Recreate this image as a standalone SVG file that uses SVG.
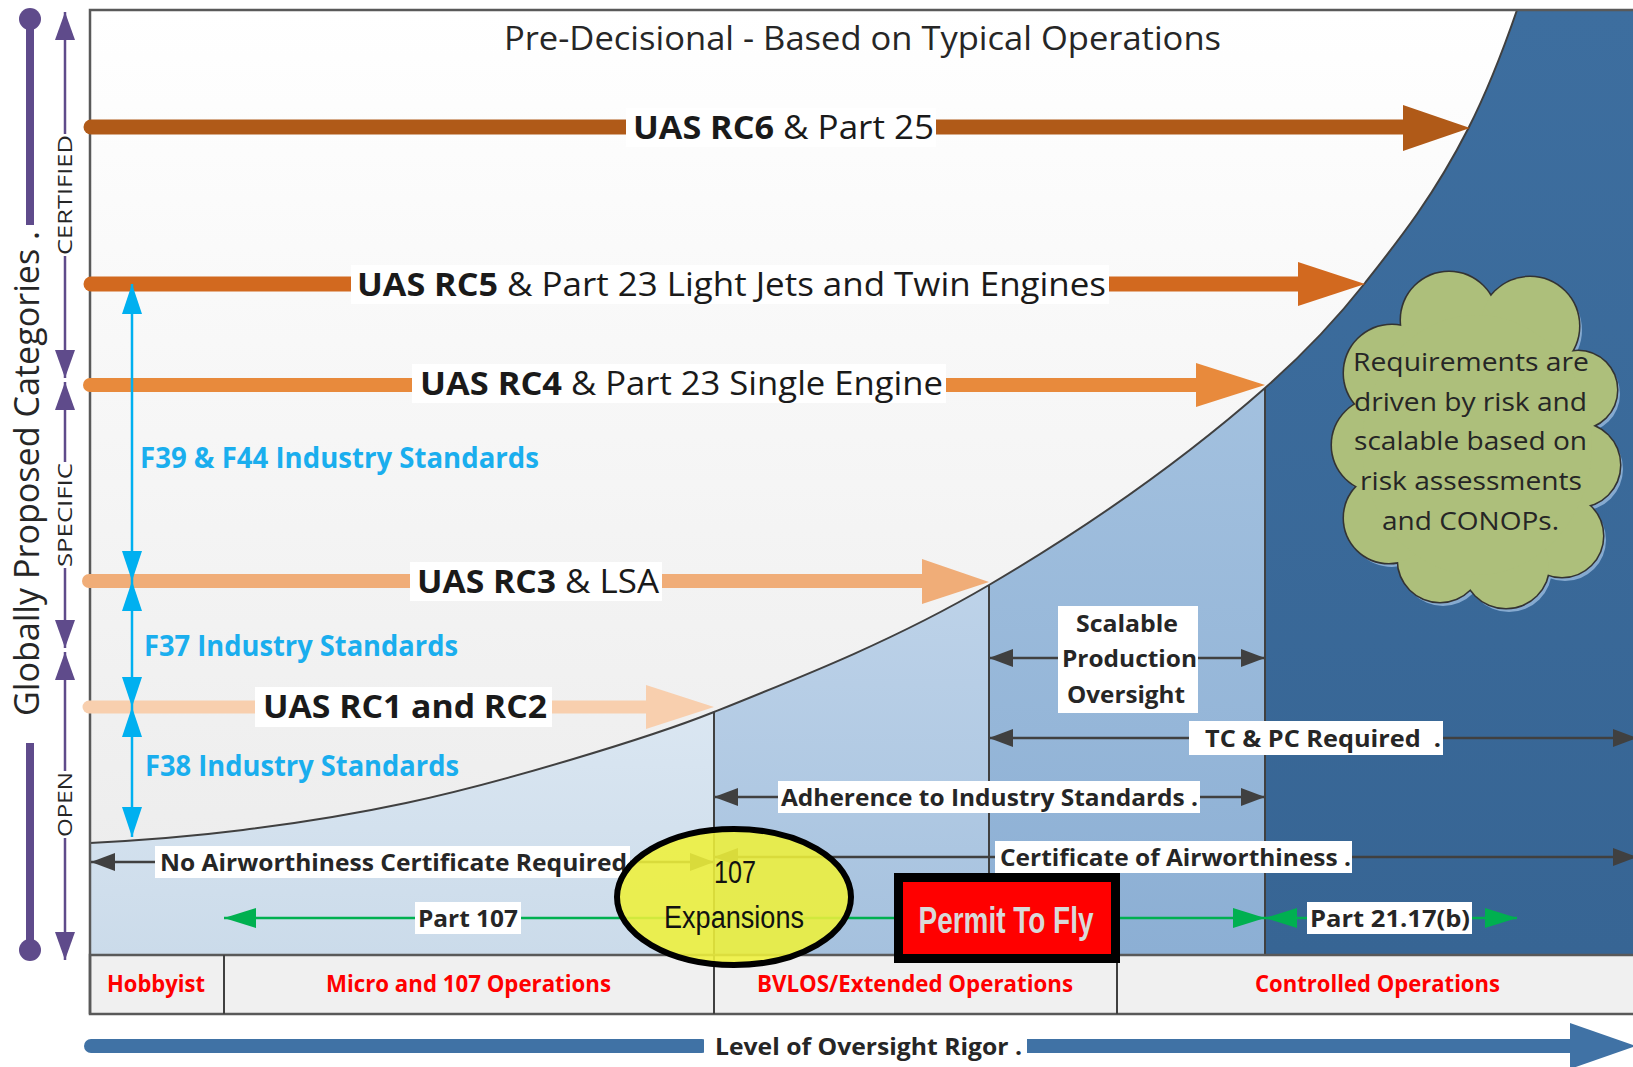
<svg xmlns="http://www.w3.org/2000/svg" width="1633" height="1067" viewBox="0 0 1633 1067">
<style>
.t{font-family:"Open Sans","Liberation Sans",sans-serif}
.b{font-weight:700}
.rc{font-size:32px;fill:#1a1a1a}
.blu{font-size:28px;fill:#1aaeee;font-weight:700}
.lbl{font-size:24px;fill:#262626;font-weight:700}
.cat{font-size:23px;fill:#ff0000;font-weight:700}
.cld{font-size:25px;fill:#262626}
.pur{font-size:20px;fill:#262626}
.bg{fill:#ffffff}
.ka{stroke:#404040;stroke-width:2.5;fill:none;marker-start:url(#ah-k);marker-end:url(#ah-k)}
.ga{stroke:#00b050;stroke-width:2.5;fill:none;marker-start:url(#ah-g);marker-end:url(#ah-g)}
.ba{stroke:#00b0f0;stroke-width:2.5;fill:none;marker-start:url(#ah-b);marker-end:url(#ah-b)}
.pa{stroke:#5f4b8b;stroke-width:2.5;fill:none;marker-start:url(#ah-p);marker-end:url(#ah-p)}
.div{stroke:#404040;stroke-width:2;fill:none}
</style>
<defs>
<marker id="ah-k" viewBox="0 0 24 18" refX="24" refY="9" markerWidth="24" markerHeight="18" markerUnits="userSpaceOnUse" orient="auto-start-reverse"><path d="M0,0 L24,9 L0,18 z" fill="#404040"/></marker>
<marker id="ah-g" viewBox="0 0 32 20" refX="32" refY="10" markerWidth="32" markerHeight="20" markerUnits="userSpaceOnUse" orient="auto-start-reverse"><path d="M0,0 L32,10 L0,20 z" fill="#00b050"/></marker>
<marker id="ah-b" viewBox="0 0 30 20" refX="30" refY="10" markerWidth="30" markerHeight="20" markerUnits="userSpaceOnUse" orient="auto-start-reverse"><path d="M0,0 L30,10 L0,20 z" fill="#00b0f0"/></marker>
<marker id="ah-p" viewBox="0 0 28 20" refX="28" refY="10" markerWidth="28" markerHeight="20" markerUnits="userSpaceOnUse" orient="auto-start-reverse"><path d="M0,0 L28,10 L0,20 z" fill="#5f4b8b"/></marker>
<linearGradient id="gPlot" x1="0" y1="10" x2="0" y2="955" gradientUnits="userSpaceOnUse"><stop offset="0" stop-color="#ffffff"/><stop offset="1" stop-color="#ebebeb"/></linearGradient>
<linearGradient id="gA" x1="0" y1="700" x2="0" y2="955" gradientUnits="userSpaceOnUse"><stop offset="0" stop-color="#dbe7f2"/><stop offset="1" stop-color="#cbdbea"/></linearGradient>
<linearGradient id="gB" x1="0" y1="580" x2="0" y2="955" gradientUnits="userSpaceOnUse"><stop offset="0" stop-color="#bed3e9"/><stop offset="1" stop-color="#a5c1de"/></linearGradient>
<linearGradient id="gC" x1="0" y1="380" x2="0" y2="955" gradientUnits="userSpaceOnUse"><stop offset="0" stop-color="#a3c1df"/><stop offset="1" stop-color="#8cafd4"/></linearGradient>
<linearGradient id="gD" x1="0" y1="10" x2="0" y2="955" gradientUnits="userSpaceOnUse"><stop offset="0" stop-color="#3d6e9f"/><stop offset="1" stop-color="#376594"/></linearGradient>
<clipPath id="below"><path d="M90,843 C141,840.4 192,836.4 243,830 C297.3,823.2 351.7,814.6 406,803 C460.7,791.3 515.3,776.3 570,760 C618,745.7 666,731.2 714,712 C805.7,675.3 897.3,638.9 989,585 C1081,530.9 1173,469 1265,388 C1298.3,358.7 1331.7,325.3 1365,283 C1399.3,239.4 1433.7,196.2 1468,129 C1484.3,97.1 1500.7,57.3 1517,10 L1640,10 L1640,955 L90,955 Z"/></clipPath>
<g id="cloudshape">
<circle cx="1449" cy="320" r="48"/><circle cx="1530" cy="326" r="49"/><circle cx="1578" cy="390" r="39"/><circle cx="1578" cy="465" r="42"/><circle cx="1562" cy="536" r="41"/><circle cx="1506" cy="565" r="43"/><circle cx="1440" cy="560" r="42"/><circle cx="1389" cy="518" r="45"/><circle cx="1379" cy="445" r="47"/><circle cx="1392" cy="373" r="48"/><ellipse cx="1477" cy="445" rx="115" ry="130"/>
</g>
</defs>
<rect width="1633" height="1067" fill="#ffffff"/>
<g id="plot-area">
<rect x="90" y="10" width="1550" height="945" fill="url(#gPlot)"/>
<g clip-path="url(#below)">
<rect x="90" y="10" width="624" height="945" fill="url(#gA)"/>
<rect x="714" y="10" width="275" height="945" fill="url(#gB)"/>
<rect x="989" y="10" width="276" height="945" fill="url(#gC)"/>
<rect x="1265" y="10" width="375" height="945" fill="url(#gD)"/>
</g>
<path d="M90,843 C141,840.4 192,836.4 243,830 C297.3,823.2 351.7,814.6 406,803 C460.7,791.3 515.3,776.3 570,760 C618,745.7 666,731.2 714,712 C805.7,675.3 897.3,638.9 989,585 C1081,530.9 1173,469 1265,388 C1298.3,358.7 1331.7,325.3 1365,283 C1399.3,239.4 1433.7,196.2 1468,129 C1484.3,97.1 1500.7,57.3 1517,10" fill="none" stroke="#404040" stroke-width="2"/>
<line class="div" x1="714" y1="712" x2="714" y2="955"/>
<line class="div" x1="989" y1="585" x2="989" y2="955"/>
<line class="div" x1="1265" y1="388" x2="1265" y2="955"/>
</g>
<g id="categories">
<rect x="90" y="955" width="1550" height="59" fill="#f0f0f0" stroke="#595959" stroke-width="2.5"/>
<line class="div" x1="224" y1="955" x2="224" y2="1014"/>
<line class="div" x1="714" y1="955" x2="714" y2="1014"/>
<line class="div" x1="1117" y1="955" x2="1117" y2="1014"/>
<text class="t cat" x="107" y="992" textLength="98" lengthAdjust="spacingAndGlyphs">Hobbyist</text>
<text class="t cat" x="326" y="992" textLength="285" lengthAdjust="spacingAndGlyphs">Micro and 107 Operations</text>
<text class="t cat" x="757" y="992" textLength="316" lengthAdjust="spacingAndGlyphs">BVLOS/Extended Operations</text>
<text class="t cat" x="1255" y="992" textLength="245" lengthAdjust="spacingAndGlyphs">Controlled Operations</text>
</g>
<path id="frame" d="M90,1014 V10 H1640" fill="none" stroke="#595959" stroke-width="2.5"/>
<g id="title"><text class="t" x="504" y="50" font-size="32" fill="#262626" textLength="717" lengthAdjust="spacingAndGlyphs">Pre-Decisional - Based on Typical Operations</text></g>
<g id="connectors">
<line x1="91" y1="127" x2="1405" y2="127" stroke="#b05a18" stroke-width="15" stroke-linecap="round"/>
<polygon points="1403,105 1470,128 1403,151" fill="#b05a18"/>
<line x1="91" y1="284" x2="1300" y2="284" stroke="#d2691f" stroke-width="15" stroke-linecap="round"/>
<polygon points="1298,262 1365,284 1298,306" fill="#d2691f"/>
<line x1="90" y1="385" x2="1198" y2="385" stroke="#e88a3c" stroke-width="14" stroke-linecap="round"/>
<polygon points="1196,363 1265,385 1196,407" fill="#e88a3c"/>
<line x1="89" y1="581" x2="925" y2="581" stroke="#f0ad78" stroke-width="14" stroke-linecap="round"/>
<polygon points="922,559 989,582 922,604" fill="#f0ad78"/>
<line x1="89" y1="707" x2="648" y2="707" stroke="#f8cfae" stroke-width="13" stroke-linecap="round"/>
<polygon points="646,685 714,707 646,729" fill="#f8cfae"/>
<line class="ba" x1="132" y1="284" x2="132" y2="581"/>
<line class="ba" x1="132" y1="581" x2="132" y2="707"/>
<line class="ba" x1="132" y1="707" x2="132" y2="837"/>
<line class="ka" x1="91" y1="862" x2="714" y2="862"/>
<line class="ka" x1="714" y1="797" x2="1265" y2="797"/>
<line class="ka" x1="989" y1="658" x2="1265" y2="658"/>
<line class="ka" x1="989" y1="738" x2="1637" y2="738"/>
<line class="ka" x1="714" y1="857" x2="1637" y2="857"/>
<line class="ga" x1="224" y1="918" x2="1265" y2="918"/>
<line class="ga" x1="1265" y1="918" x2="1517" y2="918"/>
<line x1="91" y1="1046" x2="702" y2="1046" stroke="#4072a5" stroke-width="14" stroke-linecap="round"/>
<line x1="1027" y1="1046" x2="1574" y2="1046" stroke="#4072a5" stroke-width="14"/>
<polygon points="1570,1023 1636,1046 1570,1069" fill="#4072a5"/>
</g>
<g id="rc6"><rect class="bg" x="626" y="108" width="310" height="39"/>
<text class="t rc b" x="633" y="139" textLength="141" lengthAdjust="spacingAndGlyphs">UAS RC6</text>
<text class="t rc" x="783" y="139" textLength="151" lengthAdjust="spacingAndGlyphs">&amp; Part 25</text></g>
<g id="rc5"><rect class="bg" x="351" y="265" width="758" height="39"/>
<text class="t rc b" x="357" y="296" textLength="141" lengthAdjust="spacingAndGlyphs">UAS RC5</text>
<text class="t rc" x="507" y="296" textLength="599" lengthAdjust="spacingAndGlyphs">&amp; Part 23 Light Jets and Twin Engines</text></g>
<g id="rc4"><rect class="bg" x="412" y="364" width="534" height="39"/>
<text class="t rc b" x="420" y="395" textLength="142" lengthAdjust="spacingAndGlyphs">UAS RC4</text>
<text class="t rc" x="571" y="395" textLength="372" lengthAdjust="spacingAndGlyphs">&amp; Part 23 Single Engine</text></g>
<g id="rc3"><rect class="bg" x="410" y="562" width="252" height="39"/>
<text class="t rc b" x="417" y="593" textLength="139" lengthAdjust="spacingAndGlyphs">UAS RC3</text>
<text class="t rc" x="565" y="593" textLength="94" lengthAdjust="spacingAndGlyphs">&amp; LSA</text></g>
<g id="rc12"><rect class="bg" x="255" y="687" width="297" height="40"/>
<text class="t rc b" x="263" y="718" textLength="284" lengthAdjust="spacingAndGlyphs">UAS RC1 and RC2</text></g>
<g id="std-f39"><text class="t blu" x="140" y="468" textLength="399" lengthAdjust="spacingAndGlyphs">F39 &amp; F44 Industry Standards</text></g>
<g id="std-f37"><text class="t blu" x="144" y="656" textLength="314" lengthAdjust="spacingAndGlyphs">F37 Industry Standards</text></g>
<g id="std-f38"><text class="t blu" x="145" y="776" textLength="314" lengthAdjust="spacingAndGlyphs">F38 Industry Standards</text></g>
<g id="no-aw"><rect class="bg" x="155" y="846" width="475" height="32"/>
<text class="t lbl" x="160" y="871" textLength="467" lengthAdjust="spacingAndGlyphs">No Airworthiness Certificate Required</text></g>
<g id="adherence"><rect class="bg" x="778" y="781" width="422" height="32"/>
<text class="t lbl" x="781" y="806" textLength="417" lengthAdjust="spacingAndGlyphs">Adherence to Industry Standards .</text></g>
<g id="scalable"><rect class="bg" x="1058" y="606" width="140" height="107"/>
<text class="t lbl" x="1076" y="632" textLength="102" lengthAdjust="spacingAndGlyphs">Scalable</text>
<text class="t lbl" x="1062" y="667" textLength="135" lengthAdjust="spacingAndGlyphs">Production</text>
<text class="t lbl" x="1067" y="703" textLength="118" lengthAdjust="spacingAndGlyphs">Oversight</text></g>
<g id="tcpc"><rect class="bg" x="1189" y="721" width="254" height="34"/>
<text class="t lbl" x="1205" y="747" textLength="236" lengthAdjust="spacingAndGlyphs" xml:space="preserve">TC &amp; PC Required  .</text></g>
<g id="coa"><rect class="bg" x="995" y="841" width="357" height="32"/>
<text class="t lbl" x="1000" y="866" textLength="351" lengthAdjust="spacingAndGlyphs">Certificate of Airworthiness .</text></g>
<g id="part107"><rect class="bg" x="415" y="902" width="106" height="32"/>
<text class="t lbl" x="418" y="927" textLength="100" lengthAdjust="spacingAndGlyphs">Part 107</text></g>
<g id="part2117"><rect class="bg" x="1307" y="902" width="165" height="32"/>
<text class="t lbl" x="1310" y="927" textLength="160" lengthAdjust="spacingAndGlyphs">Part 21.17(b)</text></g>
<g id="permit">
<rect x="898.5" y="877.5" width="217" height="81" fill="#ff0000" stroke="#000000" stroke-width="9"/>
<text x="1006" y="933" text-anchor="middle" font-family="'Liberation Sans Narrow','Liberation Sans',sans-serif" font-weight="700" font-size="36" fill="#d9d9d9" textLength="175" lengthAdjust="spacingAndGlyphs">Permit To Fly</text>
</g>
<g id="expansions">
<ellipse cx="734" cy="897" rx="117" ry="68" fill="#eef03a" fill-opacity="0.88" stroke="#000000" stroke-width="6"/>
<text x="735" y="883" text-anchor="middle" font-family="'Liberation Sans Narrow','Liberation Sans',sans-serif" font-size="31" fill="#111111" textLength="42" lengthAdjust="spacingAndGlyphs">107</text>
<text x="734" y="928" text-anchor="middle" font-family="'Liberation Sans Narrow','Liberation Sans',sans-serif" font-size="31" fill="#111111" textLength="140" lengthAdjust="spacingAndGlyphs">Expansions</text>
</g>
<g id="cloud">
<use href="#cloudshape" transform="translate(3,4)" fill="#86aad0"/>
<use href="#cloudshape" fill="#adbf7b" stroke="#333333" stroke-width="3"/>
<use href="#cloudshape" fill="#adbf7b"/>
<text class="t cld" x="1353" y="371" textLength="236" lengthAdjust="spacingAndGlyphs">Requirements are</text>
<text class="t cld" x="1354" y="411" textLength="233" lengthAdjust="spacingAndGlyphs">driven by risk and</text>
<text class="t cld" x="1354" y="450" textLength="233" lengthAdjust="spacingAndGlyphs">scalable based on</text>
<text class="t cld" x="1360" y="490" textLength="222" lengthAdjust="spacingAndGlyphs">risk assessments</text>
<text class="t cld" x="1382" y="530" textLength="177" lengthAdjust="spacingAndGlyphs">and CONOPs.</text>
</g>
<g id="axis">
<line x1="30" y1="19" x2="30" y2="225" stroke="#5f4b8b" stroke-width="8"/>
<circle cx="30" cy="19" r="11" fill="#5f4b8b"/>
<line x1="30" y1="743" x2="30" y2="950" stroke="#5f4b8b" stroke-width="8"/>
<circle cx="30" cy="950" r="11" fill="#5f4b8b"/>
<text class="t" transform="translate(39,716) rotate(-90)" font-size="34" fill="#262626" textLength="485" lengthAdjust="spacingAndGlyphs">Globally Proposed Categories .</text>
<line class="pa" x1="65" y1="12" x2="65" y2="378"/>
<line class="pa" x1="65" y1="382" x2="65" y2="648"/>
<line class="pa" x1="65" y1="652" x2="65" y2="960"/>
<rect class="bg" x="53" y="134" width="24" height="122"/>
<rect class="bg" x="53" y="462" width="24" height="106"/>
<rect class="bg" x="53" y="771" width="24" height="67"/>
<text class="t pur" transform="translate(72,255) rotate(-90)" textLength="120" lengthAdjust="spacingAndGlyphs">CERTIFIED</text>
<text class="t pur" transform="translate(72,567) rotate(-90)" textLength="104" lengthAdjust="spacingAndGlyphs">SPECIFIC</text>
<text class="t pur" transform="translate(72,837) rotate(-90)" textLength="65" lengthAdjust="spacingAndGlyphs">OPEN</text>
</g>
<g id="rigor"><rect class="bg" x="704" y="1030" width="321" height="32"/>
<text class="t lbl" x="715" y="1055" textLength="307" lengthAdjust="spacingAndGlyphs">Level of Oversight Rigor .</text></g>
</svg>
